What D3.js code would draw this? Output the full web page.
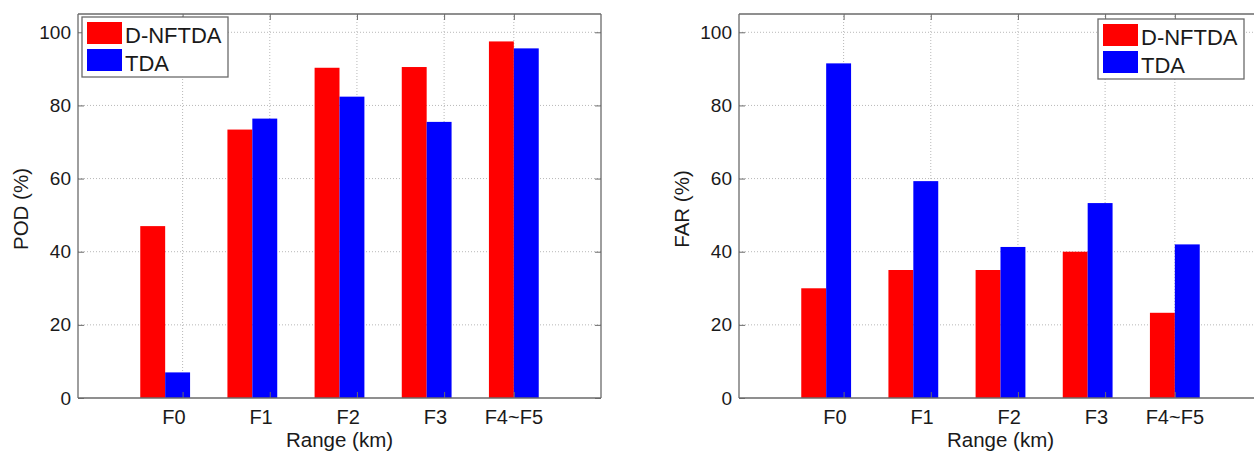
<!DOCTYPE html>
<html>
<head>
<meta charset="utf-8">
<script src="https://cdn.jsdelivr.net/npm/d3@7"></script>
<style>
  body { margin: 0; background: #fff; }
  svg { display: block; font-family: "Liberation Sans", Arial, Helvetica, sans-serif; }
</style>
</head>
<body>
<div id="chart"></div>
<script>
// --- data ---
const categories = ["F0", "F1", "F2", "F3", "F4~F5"];
const series = ["D-NFTDA", "TDA"];
const seriesColors = ["#ff0000", "#0000ff"];

const podNFTDA = [47, 73.4, 90.3, 90.5, 97.5];
const podTDA = [7, 76.4, 82.4, 75.5, 95.6];

const farNFTDA = [30, 35, 35, 40, 23.3];
const farTDA = [91.5, 59.3, 41.3, 53.3, 42];

const yTicks = [0, 20, 40, 60, 80, 100];
// tick marks / grid and where the label text sits (labels were padded in the original)
const xTickVals = [1.2, 2.2, 3.2, 4.2, 5];
const xLabelVals = [1.1, 2.1, 3.1, 4.1, 5];

const W = 1254, H = 454;
const svg = d3.select("#chart").append("svg").attr("width", W).attr("height", H);

// --- one panel ---
function drawPanel(opt) {
  const x = d3.scaleLinear().domain([0, 6]).range([opt.left, opt.right]);
  const y = d3.scaleLinear().domain([0, 105]).range([398, 14]);
  const g = svg.append("g");

  // grid
  g.append("g").selectAll("line").data(yTicks.slice(1)).join("line")
    .attr("x1", opt.left).attr("x2", opt.right)
    .attr("y1", d => y(d)).attr("y2", d => y(d))
    .attr("stroke", "#b8b8b8").attr("stroke-dasharray", "1,2");
  g.append("g").selectAll("line").data(xTickVals).join("line")
    .attr("x1", d => x(d)).attr("x2", d => x(d))
    .attr("y1", y(0)).attr("y2", y(105))
    .attr("stroke", "#b8b8b8").attr("stroke-dasharray", "1,2");

  // bars
  const bw = 2 / 3.5 / 2;
  const rows = categories.map((c, i) => ({ c, i, vals: [opt.a[i], opt.b[i]] }));
  g.append("g").selectAll("g").data(rows).join("g")
    .selectAll("rect").data(d => d.vals.map((v, k) => ({ v, k, pos: d.i + 1 })))
    .join("rect")
    .attr("x", d => x(d.pos - bw + d.k * bw))
    .attr("width", x(bw) - x(0))
    .attr("y", d => y(d.v))
    .attr("height", d => y(0) - y(d.v))
    .attr("fill", d => seriesColors[d.k]);

  // frame + inward ticks
  const axisCol = "#6a6a6a";
  const left = g.append("g").attr("transform", `translate(${opt.left},0)`)
    .call(d3.axisLeft(y).tickValues(yTicks).tickSize(-6).tickPadding(7).tickFormat(d3.format("d")));
  const right = g.append("g").attr("transform", `translate(${opt.right},0)`)
    .call(d3.axisRight(y).tickValues(yTicks).tickSize(-6).tickFormat(""));
  const bottom = g.append("g").attr("transform", `translate(0,${y(0)})`)
    .call(d3.axisBottom(x).tickValues(xTickVals).tickSize(-6).tickFormat(""));
  const top = g.append("g").attr("transform", `translate(0,${y(105)})`)
    .call(d3.axisTop(x).tickValues(xTickVals).tickSize(-6).tickFormat(""));
  [left, right, bottom, top].forEach(a => {
    a.select(".domain").attr("stroke", axisCol).attr("stroke-width", 1.3)
      .attr("d", a === left || a === right ? `M0,${y(105)}V${y(0)}` : `M${opt.left},0H${opt.right}`);
    a.selectAll(".tick line").attr("stroke", axisCol);
  });
  left.selectAll("text").attr("font-size", 19).attr("fill", "#1a1a1a")
    .attr("font-family", "Liberation Sans, Arial, sans-serif");

  // x labels
  g.append("g").selectAll("text").data(categories).join("text")
    .attr("x", (d, i) => x(xLabelVals[i]))
    .attr("y", 424)
    .attr("text-anchor", "middle")
    .attr("font-size", 20).attr("fill", "#1a1a1a")
    .text(d => d);

  g.append("text")
    .attr("x", (opt.left + opt.right) / 2).attr("y", 447)
    .attr("text-anchor", "middle").attr("font-size", 20.5).attr("fill", "#1a1a1a")
    .text("Range (km)");

  g.append("text")
    .attr("transform", `translate(${opt.ylabX},209) rotate(-90)`)
    .attr("text-anchor", "middle").attr("font-size", 20.5).attr("fill", "#1a1a1a")
    .text(opt.ylabel);

  // legend
  const lg = g.append("g").attr("transform", `translate(${opt.legX},${opt.legY})`);
  lg.append("rect").attr("width", 146).attr("height", 60)
    .attr("fill", "#fff").attr("stroke", axisCol).attr("stroke-width", 1.3);
  series.forEach((s, k) => {
    lg.append("rect").attr("x", 5).attr("y", 5 + k * 27).attr("width", 35).attr("height", 22)
      .attr("fill", seriesColors[k]);
    lg.append("text").attr("x", 43).attr("y", 26 + k * 28)
      .attr("font-size", 22).attr("fill", "#1a1a1a").text(s);
  });
}

drawPanel({ left: 78, right: 601, a: podNFTDA, b: podTDA, ylabel: "POD (%)", ylabX: 28, legX: 82, legY: 17 });
drawPanel({ left: 739, right: 1262, a: farNFTDA, b: farTDA, ylabel: "FAR (%)", ylabX: 689, legX: 1098, legY: 19 });
</script>
</body>
</html>
